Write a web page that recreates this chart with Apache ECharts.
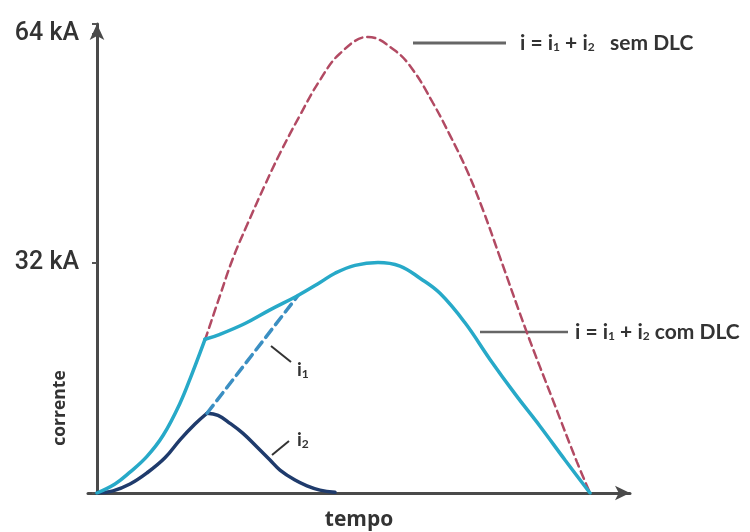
<!doctype html>
<html>
<head>
<meta charset="utf-8">
<title>corrente x tempo - DLC</title>
<script src="https://cdn.jsdelivr.net/npm/echarts@6/dist/echarts.min.js"></script>
<style>
	html, body { margin: 0; padding: 0; background: #fff; }
	#chart { width: 750px; height: 532px; }
</style>
</head>
<body>
<div id="chart"></div>
<script>
	// pontos [tempo, kA]
	var semDlc = [[108, 21.3], [123, 27.5], [136, 32.7], [150, 37.3], [168, 42.9], [183, 47.3],
		[203, 52.6], [223, 57.5], [243, 61.2], [271, 63.5], [298, 61.6], [316, 58.9], [336, 54.3],
		[353, 49.8], [370, 44.9], [386, 39.4], [403, 32.8], [430, 22.3], [456, 12.9], [480, 4.3], [493, 0]];
	var comDlcSubida = [[0, 0], [18, 1.25], [33, 2.9], [50, 5.1], [66, 8.0], [83, 12.5], [95, 16.6], [108, 21.4]];
	var comDlcDepois = [[108, 21.4], [123, 22.1], [148, 23.6], [173, 25.5], [201, 27.5], [223, 29.3],
		[238, 30.6], [258, 31.7], [281, 32.1], [303, 31.6], [323, 29.9], [343, 27.8], [368, 23.7],
		[393, 18.6], [418, 13.8], [443, 9.3], [468, 4.6], [493, 0]];
	var i1Tracejado = [[110, 11.1], [201, 27.5]];
	var i2Subida = [[0, 0], [16, 0.3], [33, 1.25], [50, 2.8], [68, 4.9], [83, 7.4], [98, 9.6], [110, 11.1]];
	var i2Descida = [[110, 11.1], [121, 10.8], [133, 9.7], [146, 8.3], [160, 6.4], [173, 4.6],
		[183, 3.2], [198, 1.8], [210, 1.0], [223, 0.4], [238, 0.1]];
	var yTicks = [32, 64];

	var chart = echarts.init(document.getElementById('chart'));

	function linha(data, cor, largura, tipo, suave) {
		return {
			type: 'line',
			data: data,
			symbol: 'none',
			smooth: suave,
			lineStyle: { color: cor, width: largura, type: tipo, cap: 'round' },
			z: 3
		};
	}

	var sub = { fontSize: 12, fontWeight: 'bold', fontFamily: 'Lato', padding: [9, 0, 0, 0] };

	var option = {
		animation: false,
		backgroundColor: '#fff',
		grid: { left: 88, right: 120, top: 24, bottom: 39, outerBoundsMode: 'none' },
		xAxis: {
			type: 'value',
			min: -9,
			max: 533,
			name: 'tempo',
			nameLocation: 'middle',
			nameGap: 17,
			nameMoveOverlap: false,
			nameTextStyle: { fontFamily: 'Open Sans', fontWeight: 'bold', fontSize: 21, color: '#333', verticalAlign: 'top' },
			axisLine: { show: true, symbol: ['none', 'arrow'], symbolSize: [11, 15],
				lineStyle: { color: '#4a4a4a', width: 3 } },
			axisTick: { show: false },
			axisLabel: { show: false },
			splitLine: { show: false }
		},
		yAxis: {
			type: 'value',
			min: 0,
			max: 65.3,
			interval: 32,
			axisLine: { show: true, onZero: true, symbol: ['none', 'arrow'], symbolSize: [11, 16],
				lineStyle: { color: '#4a4a4a', width: 3 } },
			axisTick: { show: true, length: 5, lineStyle: { color: '#555', width: 2 } },
			axisLabel: {
				margin: 9,
				padding: [7, 0, 0, 0],
				fontFamily: 'Roboto',
				fontWeight: 500,
				fontSize: 25,
				color: '#333',
				formatter: function (v) { return yTicks.indexOf(v) >= 0 ? v + ' kA' : ''; }
			},
			splitLine: { show: false }
		},
		series: [
			linha(semDlc, '#b24a63', 2.5, [8, 5], 0.4),
			linha(i2Subida, '#1f3b6c', 3.5, 'solid', 0.4),
			linha(i2Descida, '#1f3b6c', 3.5, 'solid', 0.4),
			linha(i1Tracejado, '#3b8fc2', 3.5, [10, 6], false),
			linha(comDlcSubida, '#27a9c8', 3.5, 'solid', 0.4),
			linha(comDlcDepois, '#27a9c8', 3.5, 'solid', 0.4)
		],
		graphic: [
			// nome do eixo y
			{ type: 'text', x: 60, y: 408, rotation: Math.PI / 2, style: {
				text: 'corrente', fill: '#333', font: 'bold 17.5px "Open Sans"', align: 'center', verticalAlign: 'middle' } },
			// anotação sem DLC
			{ type: 'line', shape: { x1: 413, y1: 43, x2: 506, y2: 43 }, style: { stroke: '#666', lineWidth: 3 } },
			{ type: 'text', x: 520, y: 43, style: {
				text: 'i = i{s|1} + i{s|2}   sem DLC', fill: '#333', font: 'bold 21px Lato',
				verticalAlign: 'middle', rich: { s: sub } } },
			// anotação com DLC
			{ type: 'line', shape: { x1: 480, y1: 332, x2: 568, y2: 332 }, style: { stroke: '#666', lineWidth: 2.5 } },
			{ type: 'text', x: 575, y: 332, style: {
				text: 'i = i{s|1} + i{s|2} com DLC', fill: '#333', font: 'bold 21px Lato',
				verticalAlign: 'middle', rich: { s: sub } } },
			// i1
			{ type: 'line', shape: { x1: 271, y1: 346, x2: 291, y2: 362 }, style: { stroke: '#333', lineWidth: 2 } },
			{ type: 'text', x: 297, y: 370, style: {
				text: 'i{s|1}', fill: '#333', font: 'bold 19px Lato', verticalAlign: 'middle', rich: { s: sub } } },
			// i2
			{ type: 'line', shape: { x1: 272, y1: 455, x2: 289, y2: 441 }, style: { stroke: '#333', lineWidth: 2 } },
			{ type: 'text', x: 297, y: 440, style: {
				text: 'i{s|2}', fill: '#333', font: 'bold 19px Lato', verticalAlign: 'middle', rich: { s: sub } } }
		]
	};
	chart.setOption(option);
</script>
</body>
</html>
